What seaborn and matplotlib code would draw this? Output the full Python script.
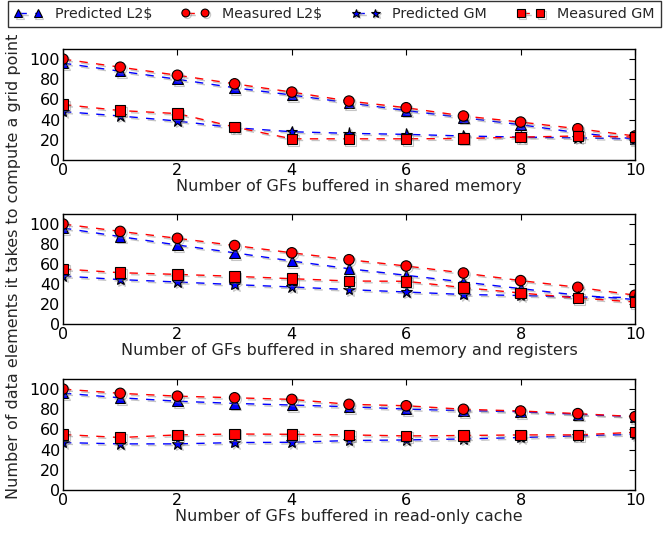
import numpy as np
import pandas as pd
import matplotlib
matplotlib.use("Agg")
import matplotlib.pyplot as plt
import matplotlib.patheffects as pe
import seaborn as sns

x = list(range(11))

# Panel 1: shared memory
p1_pred_l2 = [96, 88, 80, 71.6, 64.4, 56.7, 49, 42, 35, 27, 20.8]
p1_meas_l2 = [100, 92, 84, 75.5, 67.3, 58.4, 51.8, 43.6, 37.6, 31, 23.8]
p1_pred_gm = [48, 43.6, 38.6, 32, 28, 26.4, 25.4, 23.8, 22.7, 22, 20.8]
p1_meas_gm = [55, 49, 46, 32.7, 21, 21, 21, 21.3, 22.7, 23.8, 22.7]

# Panel 2: shared memory and registers
p2_pred_l2 = [96, 87.4, 79, 71.2, 63, 55.3, 48.7, 42, 35.4, 28.8, 24.5]
p2_meas_l2 = [100, 92.6, 85.7, 78.5, 71.2, 64.3, 58, 51, 43.4, 36.7, 28.8]
p2_pred_gm = [48, 44.4, 42, 39.4, 37, 34.4, 32, 29.5, 28.5, 27, 26.5]
p2_meas_gm = [55, 51.3, 49.6, 47.7, 45.3, 43, 42.7, 36.4, 31, 26, 22]

# Panel 3: read-only cache
p3_pred_l2 = [96, 91.4, 88, 85.8, 84.2, 82.5, 80.2, 78.6, 77.6, 75, 72.7]
p3_meas_l2 = [100, 95.8, 93, 91.4, 89.8, 84.9, 83.5, 80, 78.3, 75.7, 72.7]
p3_pred_gm = [47, 45.7, 45.7, 47, 47.3, 49, 49.6, 50.6, 52, 53.6, 55.2]
p3_meas_gm = [55, 52, 54.6, 55.5, 55.2, 54.6, 53.6, 54, 54.6, 54.6, 57.2]

series_labels = ["Predicted L2$", "Measured L2$", "Predicted GM", "Measured GM"]
xlabels = ["Number of GFs buffered in shared memory",
           "Number of GFs buffered in shared memory and registers",
           "Number of GFs buffered in read-only cache"]
ylabel = "Number of data elements it takes to compute a grid point"
yticks = [0, 20, 40, 60, 80, 100]
xticks = [0, 2, 4, 6, 8, 10]

panels = [
    [p1_pred_l2, p1_meas_l2, p1_pred_gm, p1_meas_gm],
    [p2_pred_l2, p2_meas_l2, p2_pred_gm, p2_meas_gm],
    [p3_pred_l2, p3_meas_l2, p3_pred_gm, p3_meas_gm],
]

sns.set_theme(style="white")
plt.rcParams['font.family'] = ['DejaVu Sans']
plt.rcParams['axes.edgecolor'] = 'black'
plt.rcParams['axes.linewidth'] = 1.0
plt.rcParams['xtick.color'] = 'black'
plt.rcParams['ytick.color'] = 'black'

FS = 11.5
LFS = 10.3

styles = [
    dict(color=(0, 0, 1), marker='^'),
    dict(color=(1, 0, 0), marker='o'),
    dict(color=(0, 0, 1), marker='*'),
    dict(color=(1, 0, 0), marker='s'),
]
msizes = [7.5, 7.5, 8.5, 7.5]

fig = plt.figure(figsize=(6.65, 5.37), dpi=100)
left, width = 63 / 665, 572 / 665
positions = [(49, 160), (214, 324), (379, 490)]
shadow = [pe.SimpleLineShadow(offset=(1.2, -1.2), shadow_color='gray', alpha=0.45), pe.Normal()]

axes = []
for i, (top, bot) in enumerate(positions):
    ax = fig.add_axes([left, (537 - bot) / 537, width, (bot - top) / 537])
    axes.append(ax)
    for j, ys in enumerate(panels[i]):
        df = pd.DataFrame({"x": x, "y": ys})
        sns.lineplot(data=df, x="x", y="y", ax=ax, color=styles[j]['color'],
                     marker=styles[j]['marker'], markersize=msizes[j],
                     markeredgecolor='black', markeredgewidth=0.8,
                     linestyle=(0, (6, 6)),
                     linewidth=1.0, label=series_labels[j],
                     path_effects=shadow, legend=False)
    ax.set_xlim(0, 10)
    ax.set_ylim(0, 110)
    ax.set_xticks(xticks)
    ax.set_yticks(yticks)
    ax.tick_params(direction='in', top=True, right=True, length=4, width=0.8,
                   labelsize=FS, pad=2)
    ax.set_xlabel(xlabels[i], fontsize=FS, labelpad=1)
    ax.set_ylabel("")
    for sp in ax.spines.values():
        sp.set_visible(True)
        sp.set_color('black')

handles = axes[0].get_lines()[:4]
leg = fig.legend(handles, series_labels, loc='upper left', ncol=4, numpoints=2,
           bbox_to_anchor=(8 / 665, 1 - 1 / 537), frameon=True, fancybox=False,
           edgecolor='black', fontsize=LFS, handlelength=1.95, handletextpad=0.9,
           columnspacing=2.05, borderaxespad=0.0, markerscale=0.75,
           borderpad=0.42)
leg.get_frame().set_linewidth(1.0)
fig.text(0.02, 0.505, ylabel, rotation=90, va='center', ha='center', fontsize=FS)

fig.savefig("out.png", dpi=100)
